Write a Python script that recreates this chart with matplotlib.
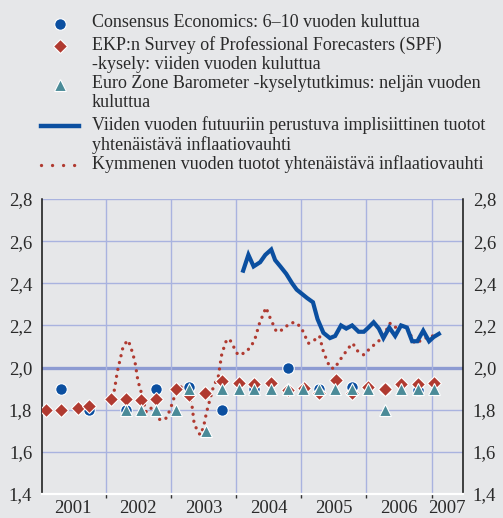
import matplotlib

matplotlib.use("Agg")
import matplotlib.pyplot as plt
from matplotlib.lines import Line2D

plt.rcParams["font.family"] = ["Liberation Serif", "DejaVu Serif"]

# Consensus Economics: 6-10 years ahead (semi-annual)
consensus_x = [2001.32, 2001.75, 2002.32, 2002.78, 2003.28, 2003.78,
               2004.28, 2004.79, 2005.28, 2005.78, 2006.28, 2006.79]
consensus_y = [1.90, 1.80, 1.80, 1.90, 1.91, 1.80,
               1.90, 2.00, 1.90, 1.91, 1.90, 1.895]

# ECB SPF: five years ahead (quarterly)
spf_x = [2001.08, 2001.32, 2001.58, 2001.75, 2002.08, 2002.32, 2002.55, 2002.78,
         2003.08, 2003.28, 2003.53, 2003.78, 2004.04, 2004.28, 2004.53, 2004.79,
         2005.04, 2005.28, 2005.53, 2005.78, 2006.03, 2006.28, 2006.53, 2006.79,
         2007.03]
spf_y = [1.80, 1.80, 1.81, 1.82, 1.85, 1.85, 1.845, 1.85,
         1.90, 1.87, 1.88, 1.935, 1.925, 1.92, 1.925, 1.895,
         1.905, 1.88, 1.94, 1.88, 1.91, 1.90, 1.92, 1.92,
         1.925]

# Euro Zone Barometer: four years ahead
ezb_x = [2002.32, 2002.55, 2002.78, 2003.08, 2003.28, 2003.54, 2003.78, 2004.04,
         2004.28, 2004.53, 2004.79, 2005.03, 2005.28, 2005.52, 2005.78, 2006.03,
         2006.28, 2006.53, 2006.79, 2007.03]
ezb_y = [1.80, 1.80, 1.80, 1.80, 1.90, 1.70, 1.90, 1.90,
         1.90, 1.90, 1.90, 1.90, 1.90, 1.90, 1.90, 1.90,
         1.80, 1.90, 1.90, 1.90]

# 5y5y forward implied break-even inflation (monthly)
fwd_x = [2004.11, 2004.19, 2004.27, 2004.37, 2004.45, 2004.54, 2004.60, 2004.68,
         2004.77, 2004.86, 2004.93, 2005.01, 2005.09, 2005.18, 2005.25, 2005.34,
         2005.44, 2005.52, 2005.61, 2005.69, 2005.78, 2005.88, 2005.96, 2006.03,
         2006.11, 2006.19, 2006.26, 2006.35, 2006.44, 2006.53, 2006.62, 2006.70,
         2006.78, 2006.87, 2006.96, 2007.03, 2007.11]
fwd_y = [2.46, 2.535, 2.48, 2.50, 2.535, 2.56, 2.51, 2.48,
         2.445, 2.40, 2.37, 2.35, 2.33, 2.31, 2.23, 2.165,
         2.14, 2.15, 2.20, 2.185, 2.20, 2.17, 2.17, 2.19,
         2.215, 2.185, 2.14, 2.19, 2.15, 2.20, 2.19, 2.125,
         2.125, 2.175, 2.125, 2.145, 2.16]

# 10-year break-even inflation
be10_x = [2002.11, 2002.14, 2002.18, 2002.24, 2002.27, 2002.34, 2002.38, 2002.45,
          2002.49, 2002.52, 2002.56, 2002.62, 2002.69, 2002.84, 2002.93, 2002.99,
          2003.07, 2003.19, 2003.28, 2003.33, 2003.36, 2003.45, 2003.50, 2003.55,
          2003.65, 2003.73, 2003.78, 2003.82, 2003.86, 2003.91, 2003.97, 2004.03,
          2004.14, 2004.23, 2004.29, 2004.36, 2004.46, 2004.51, 2004.62, 2004.72,
          2004.82, 2004.91, 2005.00, 2005.11, 2005.18, 2005.28, 2005.34, 2005.44,
          2005.51, 2005.58, 2005.73, 2005.79, 2005.86, 2005.96, 2006.05, 2006.24,
          2006.36, 2006.43, 2006.53, 2006.62, 2006.74, 2006.85, 2006.97, 2007.11]
be10_y = [1.86, 1.90, 1.98, 2.06, 2.10, 2.13, 2.105, 2.03,
          1.95, 1.91, 1.87, 1.79, 1.81, 1.75, 1.76, 1.80,
          1.875, 1.92, 1.87, 1.81, 1.73, 1.68, 1.715, 1.79,
          1.905, 1.96, 2.06, 2.10, 2.135, 2.13, 2.095, 2.06,
          2.07, 2.10, 2.135, 2.21, 2.285, 2.245, 2.17, 2.18,
          2.21, 2.215, 2.19, 2.115, 2.125, 2.15, 2.075, 2.00,
          1.995, 2.03, 2.095, 2.115, 2.08, 2.06, 2.09, 2.14,
          2.21, 2.19, 2.20, 2.19, 2.115, 2.13, 2.15, 2.15]

years = ["2001", "2002", "2003", "2004", "2005", "2006", "2007"]
year_label_x = [2001.5, 2002.5, 2003.5, 2004.5, 2005.5, 2006.5, 2007.24]
year_bounds = [2002, 2003, 2004, 2005, 2006, 2007]
y_ticks = [1.4, 1.6, 1.8, 2.0, 2.2, 2.4, 2.6, 2.8]

legend_labels = [
    "Consensus Economics: 6–10 vuoden kuluttua",
    "EKP:n Survey of Professional Forecasters (SPF)\n-kysely: viiden vuoden kuluttua",
    "Euro Zone Barometer -kyselytutkimus: neljän vuoden\nkuluttua",
    "Viiden vuoden futuuriin perustuva implisiittinen tuotot\nyhtenäistävä inflaatiovauhti",
    "Kymmenen vuoden tuotot yhtenäistävä inflaatiovauhti",
]

BG = "#e6e7e9"
GRID = "#a9b3df"
BLUE = "#0b4fa0"
RED = "#b03a30"
TEAL = "#4b8b98"
TEXT = "#2a2a2a"

W, H = 503, 518
fig = plt.figure(figsize=(W / 100, H / 100), dpi=100)
fig.patch.set_facecolor(BG)

ax = fig.add_axes([42 / W, 1 - 494 / H, (463 - 42) / W, (494 - 199) / H])
ax.set_facecolor(BG)
ax.set_xlim(2001.026, 2007.48)
ax.set_ylim(1.4, 2.8)

# grid
for yv in y_ticks[1:]:
    ax.axhline(yv, color=GRID, lw=1.0, zorder=1)
ax.axhline(2.0, color="#8d9bd2", lw=2.4, zorder=1)
for xv in year_bounds:
    ax.axvline(xv, color=GRID, lw=1.0, zorder=1)

ax.plot(be10_x, be10_y, color=RED, lw=2.4, linestyle=(0, (0.01, 2.1)),
        dash_capstyle="round", zorder=2)
ax.plot(fwd_x, fwd_y, color=BLUE, lw=3.0, solid_joinstyle="miter", zorder=3)
ax.plot(consensus_x, consensus_y, "o", color=BLUE, ms=8.3, mec="white",
        mew=0.8, zorder=4)
ax.plot(spf_x, spf_y, "D", color=RED, ms=6.8, mec="white", mew=0.8, zorder=5)
ax.plot(ezb_x, ezb_y, "^", color=TEAL, ms=8.3, mec="white", mew=0.8, zorder=6)

# axes styling
ax.set_yticks(y_ticks)
ax.set_yticklabels([f"{v:.1f}".replace(".", ",") for v in y_ticks])
ax.tick_params(axis="y", which="both", length=0, labelsize=13.5,
               labelcolor=TEXT, labelleft=True, labelright=True, pad=7)
ax.set_xticks(year_bounds)
ax.set_xticklabels([])
ax.set_xticks(year_label_x, minor=True)
ax.set_xticklabels(years, minor=True)
ax.tick_params(axis="x", which="major", length=3, width=1, color="#333333",
               direction="out")
ax.tick_params(axis="x", which="minor", length=0, labelsize=13.5,
               labelcolor=TEXT, pad=4)
for side in ("left", "right"):
    ax.spines[side].set_color("#111111")
    ax.spines[side].set_linewidth(1.1)
ax.spines["top"].set_visible(False)
ax.spines["bottom"].set_color("white")
ax.spines["bottom"].set_linewidth(1.6)

# legend drawn by hand so markers align with the first text line
entry_y = [22.7, 45, 84, 125, 164]
handles = [
    dict(marker="o", color=BLUE, ms=8.3, ls="none"),
    dict(marker="D", color=RED, ms=6.8, ls="none"),
    dict(marker="^", color=TEAL, ms=8.3, ls="none"),
    dict(marker=None, color=BLUE, lw=3.2, ls="-"),
    dict(marker=None, color=RED, lw=2.4, ls=(0, (0.01, 3.3)), dash_capstyle="round"),
]
for label, yp, style in zip(legend_labels, entry_y, handles):
    yf = 1 - (yp + 1.0) / H
    if style["marker"] is None:
        line = Line2D([41 / W, 79 / W], [yf, yf], transform=fig.transFigure, **style)
    else:
        line = Line2D([60 / W], [yf], transform=fig.transFigure,
                      mec="white", mew=0.8, **style)
    fig.add_artist(line)
    fig.text(92 / W, 1 - (yp - 8.5) / H, label, ha="left", va="top",
             fontsize=13, color=TEXT, linespacing=1.13)

fig.savefig("out.png", dpi=100, facecolor=fig.get_facecolor())
